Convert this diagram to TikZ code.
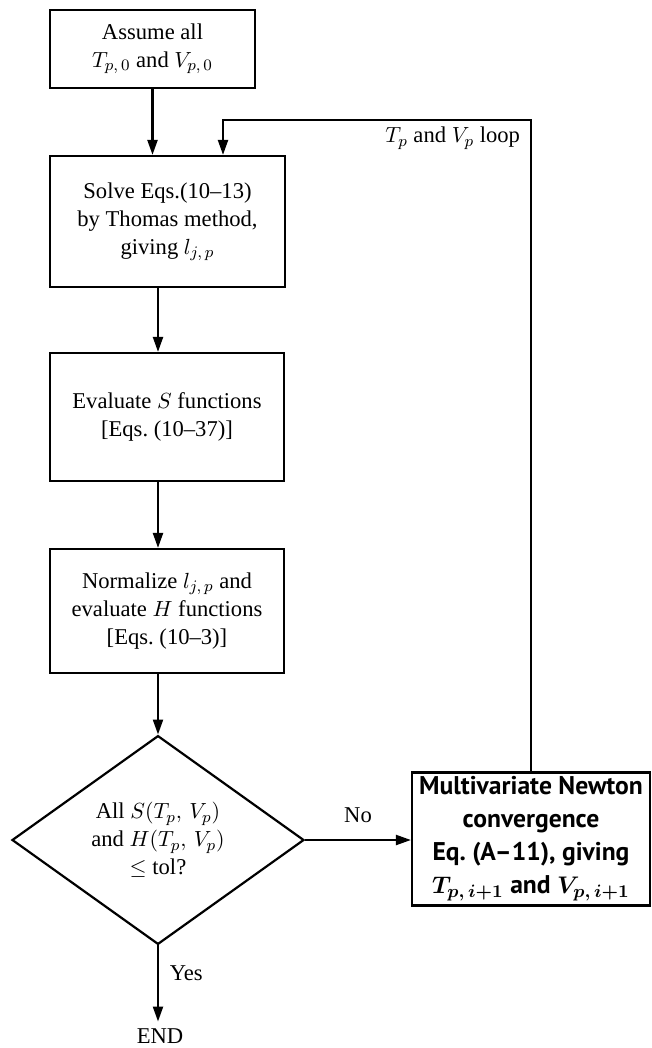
\documentclass[tikz,border=0pt]{standalone}
\usepackage{fontspec}
\setmainfont{Liberation Serif}
\newfontfamily\boxsans[Ligatures=TeX]{PT Sans}
\usepackage{tikz}
\usetikzlibrary{
  arrows.meta,
  calc,
  positioning,
  shapes.geometric
}
\tikzset{
  box/.style={draw, line width=1.1pt, align=center, inner sep=2pt,
    font=\fontsize{11.3}{14}\selectfont},
  decision/.style={draw, diamond, line width=1.1pt, align=center, inner sep=0pt,
    font=\fontsize{11.3}{14}\selectfont},
  newtonbox/.style={draw, line width=1.1pt, align=center, inner sep=1pt,
    font=\boxsans\bfseries\boldmath\fontsize{12.8}{16.5}\selectfont},
  arr/.style={-{Triangle[length=7.5pt,width=5pt]}, line width=1.1pt},
  lbl/.style={font=\fontsize{11.3}{14}\selectfont}
}

\begin{document}
\begin{tikzpicture}[x=0.5pt, y=-0.5pt]
  \useasboundingbox (0, 0) rectangle (652, 1048);

  \node[box, minimum width=102.5pt, minimum height=39pt] (assume) at (152.5, 49)
    {Assume all\\ $T_{p,\,0}$ and $V_{p,\,0}$};
  \node[box, minimum width=117.5pt, minimum height=65.5pt] (thomas) at (167.5, 221.5)
    {Solve Eqs.(10--13)\\ by Thomas method,\\ giving $l_{j,\,p}$};
  \node[box, minimum width=117pt, minimum height=64pt] (sfun) at (167, 417)
    {Evaluate $S$ functions\\ {[Eqs.~(10--37)]}};
  \node[box, minimum width=117pt, minimum height=62pt] (hfun) at (167, 611)
    {Normalize $l_{j,\,p}$ and\\ evaluate $H$ functions\\ {[Eqs.~(10--3)]}};
  \node[decision, minimum width=146pt, minimum height=100pt] (test) at (158, 840)
    {All $S(T_p,\,V_p)$\\ and $H(T_p,\,V_p)$\\ $\le$ tol?};
  \node[newtonbox, minimum width=119pt, minimum height=66.5pt] (newton) at (531, 839)
    {Multivariate Newton\\ convergence\\ Eq.~(A--11), giving\\ $T_{p,\,i+1}$ and $V_{p,\,i+1}$};
  \node[lbl] (stop) at (160, 1036) {END};

  \draw[arr] (assume.south) -- (assume.south |- thomas.north);
  \draw[arr] (thomas.south -| test.north) -- (sfun.north -| test.north);
  \draw[arr] (sfun.south -| test.north) -- (hfun.north -| test.north);
  \draw[arr] (hfun.south -| test.north) -- (test.north);
  \draw[arr] (test.east) -- node[lbl, above=5pt] (no) {No} (test.east -| newton.west);
  \draw[arr] (test.south) -- node[lbl, pos=0.36, right=2pt] (yes) {Yes} (test.south |- stop.north);

  % loop back
  \coordinate (looptop) at (223, 120);
  \draw[arr] (newton.north) |- (looptop) -- (looptop |- thomas.north);
  \node[lbl, below left=0pt and 2pt] (looplbl) at (newton.north |- looptop)
    {$T_p$ and $V_p$ loop};
\end{tikzpicture}
\end{document}
